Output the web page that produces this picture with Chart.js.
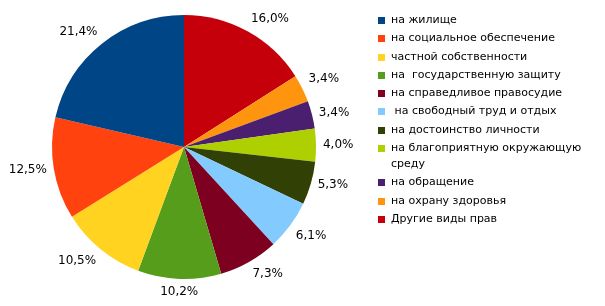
<!DOCTYPE html>
<html>
<head>
<meta charset="utf-8">
<script src="https://cdn.jsdelivr.net/npm/chart.js@4"></script>
<style>
  body { margin: 0; background: #fff; }
  #wrap { position: relative; width: 605px; height: 306px; }
  #pie { position: absolute; left: 0; top: 0; }
  #legend { position: absolute; left: 378px; top: 12px; font: 11px "DejaVu Sans", sans-serif; color: #000; }
  #legend .item { display: flex; align-items: flex-start; margin-bottom: 2.3px; line-height: 16px; }
  #legend .box { width: 7px; height: 7px; margin-top: 5px; margin-right: 6px; flex: none; }
  #legend .txt { white-space: pre-wrap; width: 205px; }
</style>
</head>
<body>
<div id="wrap">
  <canvas id="pie" width="605" height="306"></canvas>
  <div id="legend"></div>
</div>
<script>
// slices clockwise from 12 o'clock
labels = ['Другие виды прав', 'на охрану здоровья', 'на обращение', 'на благоприятную окружающую среду',
          'на достоинство личности', ' на свободный труд и отдых', 'на справедливое правосудие',
          'на  государственную защиту', 'частной собственности', 'на социальное обеспечение', 'на жилище']
values = [16.0, 3.4, 3.4, 4.0, 5.3, 6.1, 7.3, 10.2, 10.5, 12.5, 21.4]
colors = ['#c5000b', '#ff950e', '#4b1f6f', '#aecf00', '#314004', '#83caff', '#7e0021',
          '#579d1c', '#ffd320', '#ff420e', '#004586']

// percent labels outside the pie, placed like an office chart does
var outsideLabels = {
    id: 'outsideLabels',
    afterDatasetsDraw(chart) {
        var ctx = chart.ctx;
        var meta = chart.getDatasetMeta(0);
        ctx.save();
        ctx.font = '12px "DejaVu Sans", sans-serif';
        ctx.fillStyle = '#000';
        meta.data.forEach((arc, i) => {
            var mid = (arc.startAngle + arc.endAngle) / 2;
            var r = arc.outerRadius + 7;
            var px = arc.x + Math.cos(mid) * r;
            var py = arc.y + Math.sin(mid) * r;
            var deg = (-mid * 180 / Math.PI) % 360;
            if (deg < 0) deg += 360;
            var h, v;
            if (deg <= 22.5 || deg >= 337.5) { h = 'left'; v = 'middle'; }
            else if (deg < 67.5) { h = 'left'; v = 'bottom'; }
            else if (deg < 112.5) { h = 'center'; v = 'bottom'; }
            else if (deg <= 157.5) { h = 'right'; v = 'bottom'; }
            else if (deg <= 202.5) { h = 'right'; v = 'middle'; }
            else if (deg < 247.5) { h = 'right'; v = 'top'; }
            else if (deg < 292.5) { h = 'center'; v = 'top'; }
            else { h = 'left'; v = 'top'; }
            ctx.textAlign = h;
            ctx.textBaseline = v;
            ctx.fillText(values[i].toFixed(1).replace('.', ',') + '%', px, py);
        });
        ctx.restore();
    }
};

var ctx = document.getElementById('pie').getContext('2d');
window.myPie = new Chart(ctx, {
    type: 'pie',
    data: {
        labels: labels,
        datasets: [{ data: values, backgroundColor: colors, borderWidth: 0 }]
    },
    options: {
        responsive: false,
        animation: false,
        layout: { padding: { left: 52, right: 289, top: 15, bottom: 27 } },
        plugins: { legend: { display: false }, tooltip: { enabled: false } }
    },
    plugins: [outsideLabels]
});

// legend lists the slices in reverse order
var legend = document.getElementById('legend');
labels.slice().reverse().forEach((lab, k) => {
    var i = labels.length - 1 - k;
    var item = document.createElement('div');
    item.className = 'item';
    item.innerHTML = '<span class="box" style="background:' + colors[i] + '"></span><span class="txt"></span>';
    item.querySelector('.txt').textContent = lab;
    legend.appendChild(item);
});
</script>
</body>
</html>
